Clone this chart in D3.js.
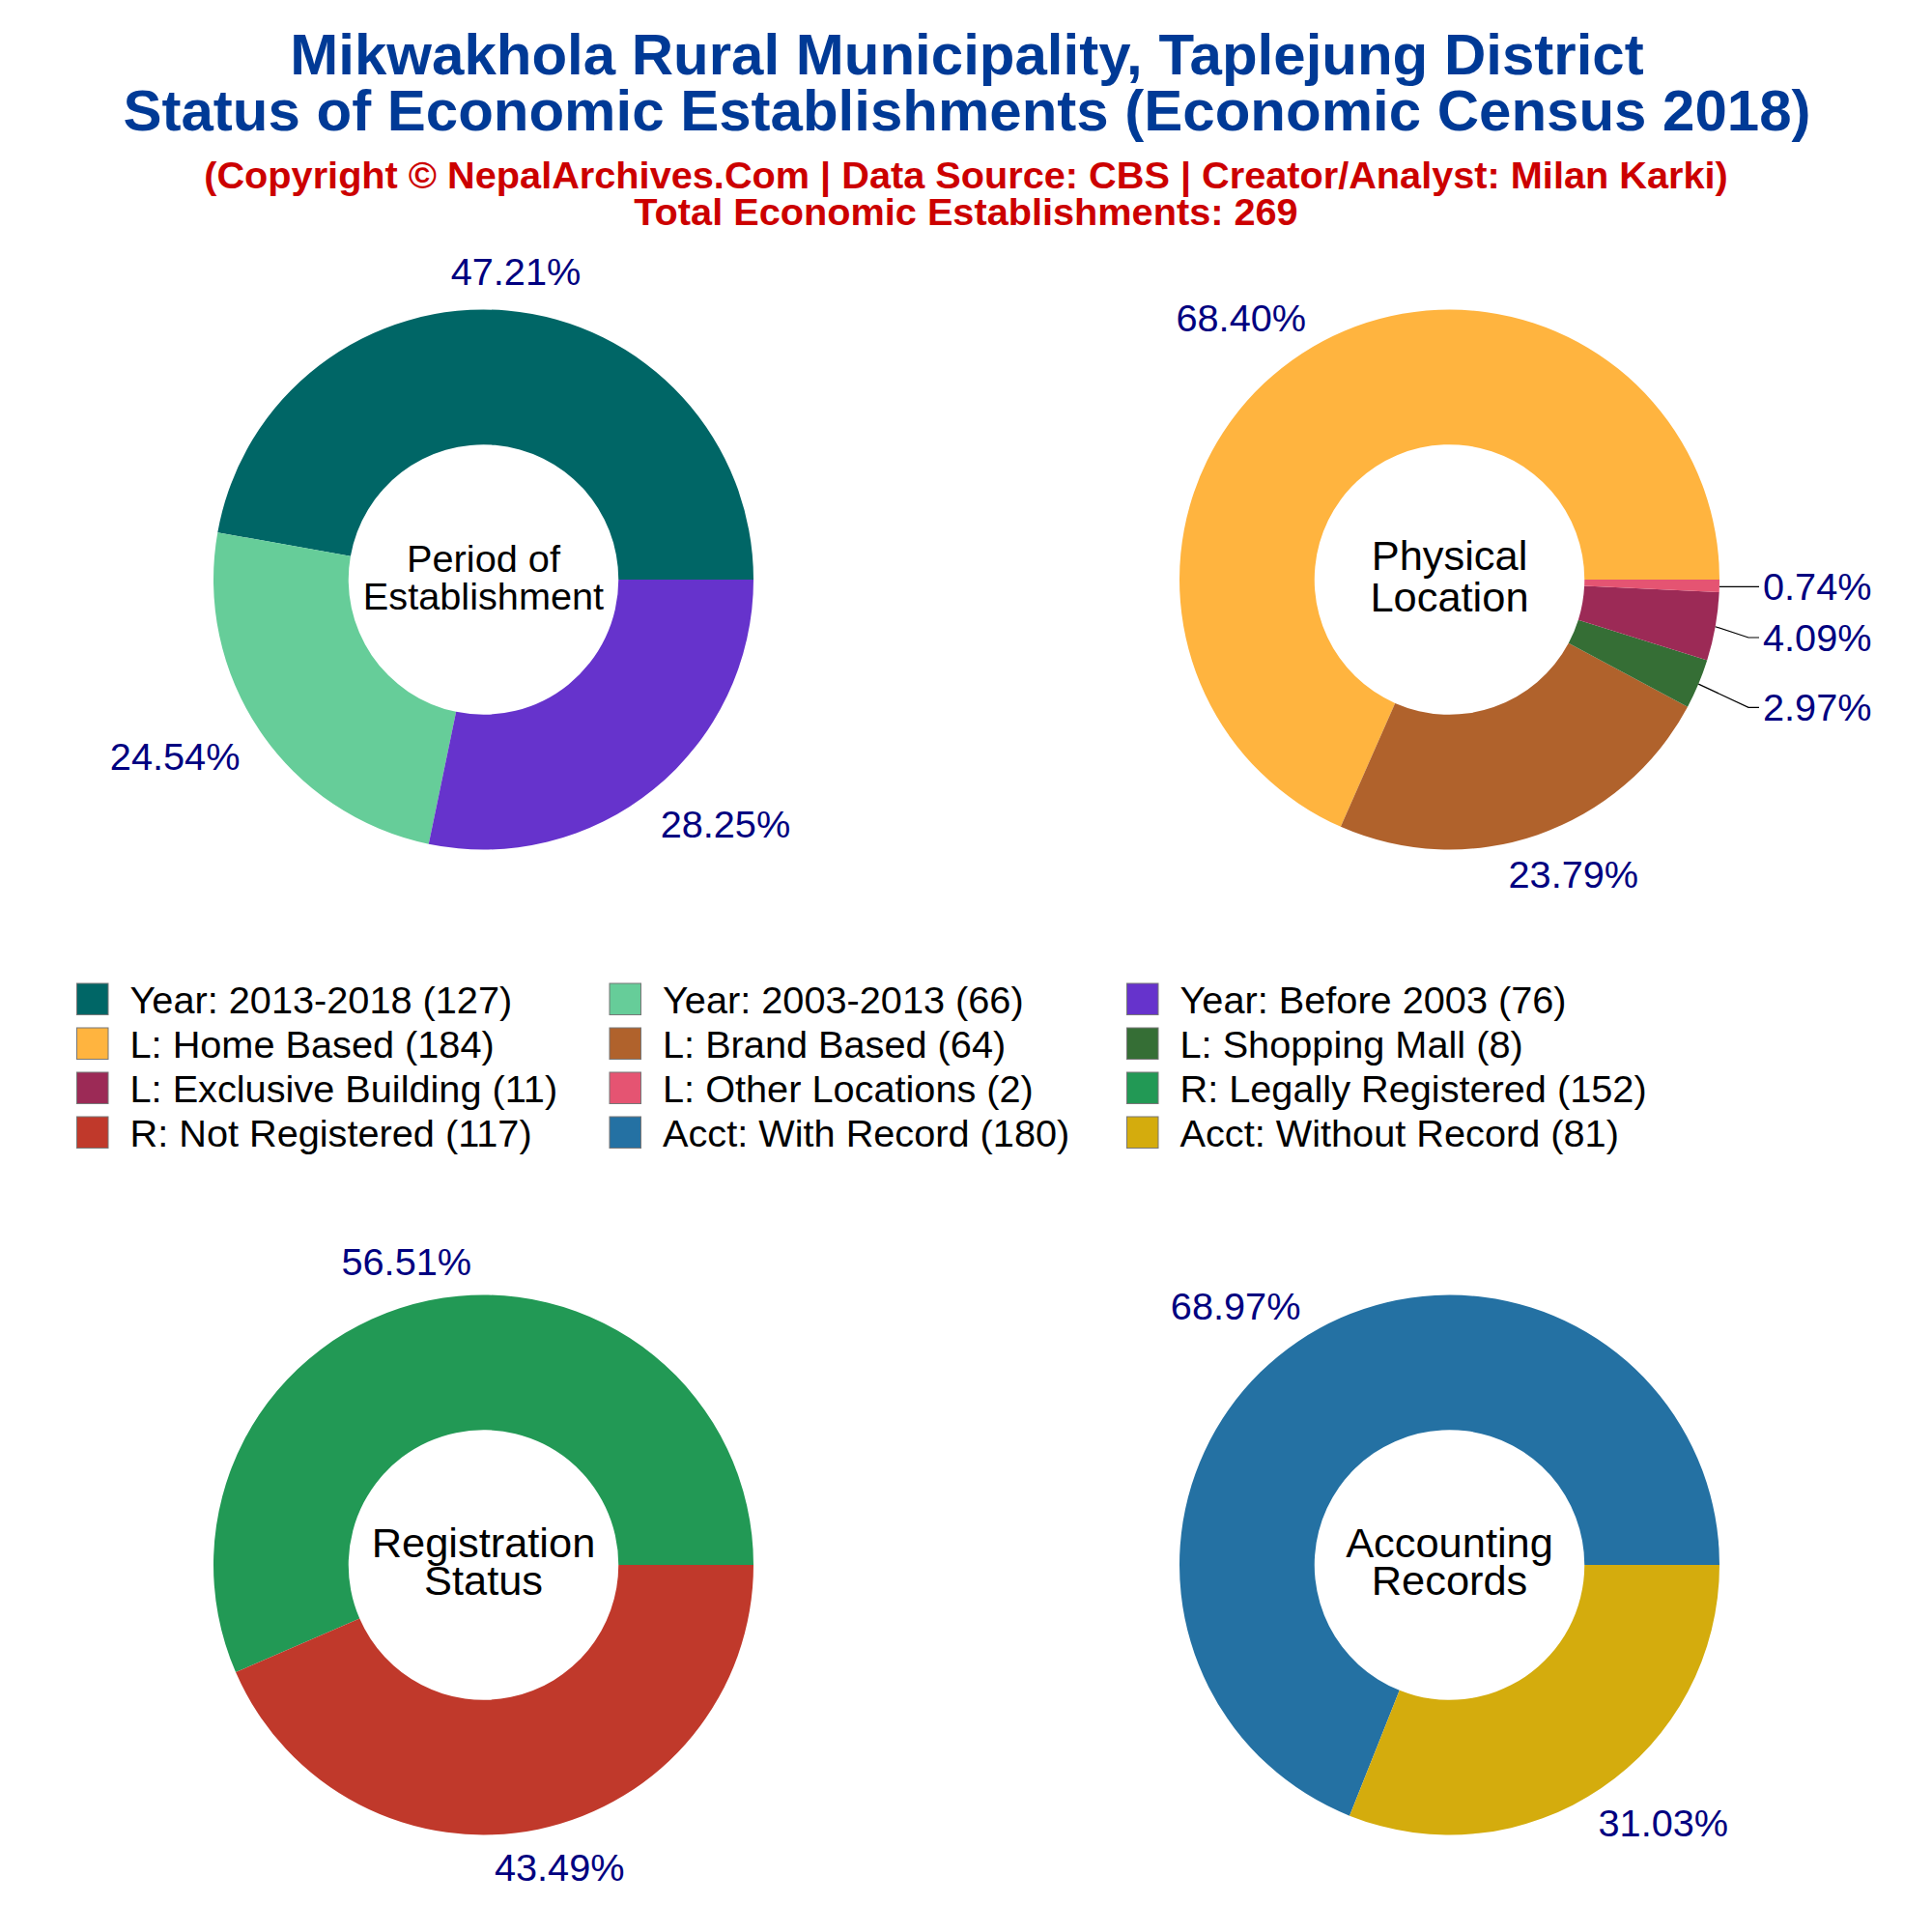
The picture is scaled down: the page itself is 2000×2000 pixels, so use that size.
<!DOCTYPE html>
<html><head><meta charset="utf-8">
<script src="https://cdnjs.cloudflare.com/ajax/libs/d3/7.8.5/d3.min.js"></script>
<style>html,body{margin:0;padding:0;background:#fff}svg{display:block}text{font-family:"Liberation Sans",Arial,sans-serif}</style>
</head><body><div id="chart"></div>
<script>
// ---- data ----
const titleLines = ["Mikwakhola Rural Municipality, Taplejung District","Status of Economic Establishments (Economic Census 2018)"];
const subtitleLines = ["(Copyright © NepalArchives.Com | Data Source: CBS | Creator/Analyst: Milan Karki)","Total Economic Establishments: 269"];
const periodLabels = ["Year: 2013-2018","Year: 2003-2013","Year: Before 2003"];
const periodValues = [127,66,76];
const locationLabels = ["L: Home Based","L: Brand Based","L: Shopping Mall","L: Exclusive Building","L: Other Locations"];
const locationValues = [184,64,8,11,2];
const registrationLabels = ["R: Legally Registered","R: Not Registered"];
const registrationValues = [152,117];
const accountLabels = ["Acct: With Record","Acct: Without Record"];
const accountValues = [180,81];
const periodColors = ["#006666","#66CD99","#6633CC"];
const locationColors = ["#FFB43F","#B0622C","#356E35","#9C2A56","#E55472"];
const registrationColors = ["#229955","#C0392B"];
const accountColors = ["#2471A3","#D4AC0D"];

// ---- layout ----
const W=2000,H=2000,R=279.5,r0=139.75;
const cols=[500.5,1500.5], rows=[600,1620];
const panels=[
 {name:["Period of","Establishment"],labels:periodLabels,values:periodValues,colors:periodColors,cx:cols[0],cy:rows[0],fs:39.7,nameY:[-22,17],
  nudge:[[9,-40],[-88,27],[74,37]]},
 {name:["Physical","Location"],labels:locationLabels,values:locationValues,colors:locationColors,cx:cols[1],cy:rows[0],fs:43.4,nameY:[-25,18],
  nudge:[[-63,-36],[37,41],null,null,null],
  leaders:{2:{y:732.3},3:{y:660},4:{y:607.3}}},
 {name:["Registration","Status"],labels:registrationLabels,values:registrationValues,colors:registrationColors,cx:cols[0],cy:rows[1],fs:43.4,nameY:[-23,16],
  nudge:[[-23,-40],[22,40]]},
 {name:["Accounting","Records"],labels:accountLabels,values:accountValues,colors:accountColors,cx:cols[1],cy:rows[1],fs:43.4,nameY:[-23,16],
  nudge:[[-64.5,-36],[64.5,36]]}
];
const svg=d3.select("#chart").append("svg").attr("width",W).attr("height",H).attr("viewBox",`0 0 ${W} ${H}`);
svg.append("rect").attr("width",W).attr("height",H).attr("fill","#fff");

const titleG=svg.append("g").attr("text-anchor","middle").attr("font-weight","bold");
const titleY=[76.5,134.5], subY=[195.3,233.3];
titleG.selectAll("text.t").data(titleLines).join("text").attr("class","t").attr("x",1001).attr("y",(d,i)=>titleY[i])
  .attr("fill","#003A96").attr("font-size",60).text(d=>d);
titleG.selectAll("text.s").data(subtitleLines).join("text").attr("class","s").attr("x",1000).attr("y",(d,i)=>subY[i])
  .attr("fill","#CC0000").attr("font-size",39.7).text(d=>d);

const arc=d3.arc().innerRadius(r0).outerRadius(R);
const pct=d3.format(".2f");
// 3 o'clock start, counter-clockwise
const pie=d3.pie().sort(null).startAngle(Math.PI/2).endAngle(Math.PI/2-2*Math.PI);
panels.forEach(p=>{
  const total=d3.sum(p.values);
  const g=svg.append("g").attr("transform",`translate(${p.cx},${p.cy})`);
  const arcs=pie(p.values);
  g.selectAll("path").data(arcs).join("path").attr("d",arc).attr("fill",(d,i)=>p.colors[i]);
  const lab=g.append("g").attr("fill","#000080").attr("font-size",39.7);
  arcs.forEach((a,i)=>{
    const mid=(a.startAngle+a.endAngle)/2;
    const ex=R*Math.sin(mid), ey=-R*Math.cos(mid);
    const t=pct(p.values[i]/total*100)+"%";
    if(p.leaders&&p.leaders[i]){
      const ly=p.leaders[i].y-p.cy, textX=1825-p.cx, elbow=1810-p.cx;
      const pts=Math.abs(ly-ey)<2?[[ex,ly],[textX-4,ly]]:[[ex,ey],[elbow,ly],[textX-4,ly]];
      g.append("path").attr("d",d3.line()(pts)).attr("fill","none").attr("stroke","#000").attr("stroke-width",1.2);
      lab.append("text").attr("x",textX).attr("y",ly+13.5).text(t);
    } else {
      lab.append("text").attr("text-anchor","middle").attr("x",ex+p.nudge[i][0]).attr("y",ey+p.nudge[i][1]+13.5).text(t);
    }
  });
  g.append("g").attr("text-anchor","middle").attr("fill","#000").attr("font-size",p.fs)
   .selectAll("text").data(p.name).join("text").attr("x",0).attr("y",(d,i)=>p.nameY[i]+p.fs*0.35).text(d=>d);
});

// legend
const legendItems=[];
panels.forEach(p=>p.labels.forEach((l,i)=>legendItems.push({label:l,value:p.values[i],color:p.colors[i]})));
const lx=[79.5,631,1166.5], ly=[1018,1064,1110,1156];
const lg=svg.append("g").attr("font-size",39.7);
legendItems.forEach((d,i)=>{
  const c=i%3,rw=Math.floor(i/3);
  lg.append("rect").attr("x",lx[c]).attr("y",ly[rw]).attr("width",32.5).attr("height",32.5).attr("fill",d.color).attr("stroke","#777").attr("stroke-width",1);
  lg.append("text").attr("x",lx[c]+55).attr("y",ly[rw]+30.5).attr("fill","#000").text(`${d.label} (${d.value})`);
});
</script></body></html>
